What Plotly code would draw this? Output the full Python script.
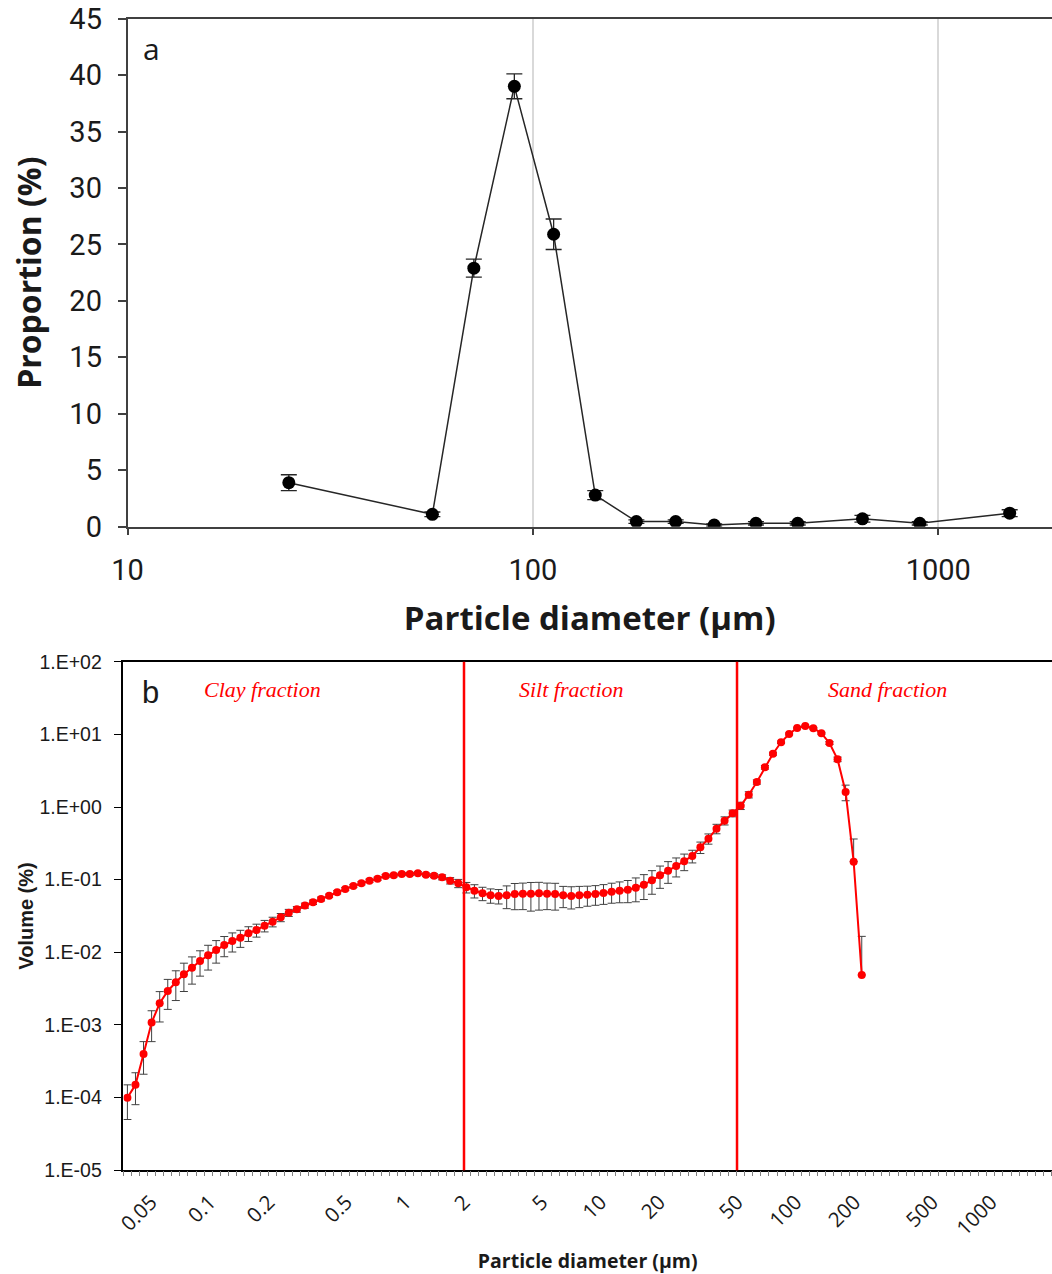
import numpy as np
import plotly.graph_objects as go

W, H = 1052, 1274

# ---------------- Panel a : sieve fractions ----------------
sieve_um = [25, 56.5, 71.5, 90, 112.5, 142.5, 180, 225, 280, 355, 450, 650, 900, 1500]
proportion = [3.9, 1.1, 22.9, 39.0, 25.9, 2.8, 0.45, 0.45, 0.15, 0.3, 0.3, 0.7, 0.3, 1.2]
proportion_sd = [0.7, 0.2, 0.8, 1.1, 1.35, 0.4, 0.15, 0.15, 0.1, 0.15, 0.15, 0.3, 0.15, 0.3]
a_xticks = [10, 100, 1000]
a_yticks = [0, 5, 10, 15, 20, 25, 30, 35, 40, 45]

# ---------------- Panel b : laser diffraction ----------------
diam_um = [
    0.0378, 0.04157, 0.04572, 0.05029, 0.05531, 0.06083, 0.0669, 0.07358, 0.08093, 0.08901,
    0.09788, 0.1076, 0.1184, 0.1302, 0.1432, 0.1575, 0.1732, 0.1905, 0.2095, 0.2305,
    0.2534, 0.2787, 0.3066, 0.3372, 0.3708, 0.4078, 0.4485, 0.4933, 0.5426, 0.5967,
    0.6563, 0.7218, 0.7938, 0.8731, 0.9603, 1.056, 1.161, 1.277, 1.405, 1.545,
    1.699, 1.869, 2.056, 2.261, 2.487, 2.735, 3.008, 3.308, 3.639, 4.002,
    4.401, 4.841, 5.324, 5.855, 6.44, 7.083, 7.79, 8.567, 9.422, 10.36,
    11.4, 12.53, 13.79, 15.16, 16.67, 18.34, 20.17, 22.18, 24.4, 26.83,
    29.51, 32.46, 35.7, 39.26, 43.18, 47.49, 52.23, 57.44, 63.17, 69.48,
    76.41, 84.04, 92.42, 101.6, 111.8, 122.9, 135.2, 148.7, 163.6, 179.9,
    197.8, 217.6,
]
volume = [
    1.0e-4, 1.5e-4, 4.0e-4, 1.08e-3, 1.99e-3, 2.94e-3, 3.87e-3, 4.99e-3, 6.15e-3, 7.6e-3,
    9.1e-3, 1.08e-2, 1.26e-2, 1.43e-2, 1.59e-2, 1.83e-2, 2.03e-2, 2.33e-2, 2.64e-2, 3.03e-2,
    3.51e-2, 3.91e-2, 4.40e-2, 4.89e-2, 5.43e-2, 6.02e-2, 6.71e-2, 7.45e-2, 8.19e-2, 8.92e-2,
    9.69e-2, 0.1032, 0.1124, 0.115, 0.1198, 0.1198, 0.1225, 0.1172, 0.1135, 0.1079,
    0.0969, 0.0892, 0.0786, 0.0706, 0.065, 0.061, 0.0597, 0.061, 0.0636, 0.0642,
    0.0642, 0.065, 0.0642, 0.0636, 0.061, 0.0597, 0.061, 0.0622, 0.0636, 0.0656,
    0.0684, 0.0706, 0.0728, 0.0776, 0.0853, 0.098, 0.115, 0.133, 0.154, 0.179,
    0.212, 0.279, 0.367, 0.503, 0.649, 0.82, 1.043, 1.478, 2.211, 3.524,
    5.42, 7.78, 10.12, 12.24, 13.04, 12.13, 10.35, 7.61, 4.54, 1.61,
    0.177, 0.00488,
]
volume_sd = [
    5e-5, 7e-5, 1.9e-4, 4.9e-4, 8.9e-4, 1.3e-3, 1.7e-3, 2.1e-3, 2.5e-3, 2.9e-3,
    3.4e-3, 3.7e-3, 3.9e-3, 4.2e-3, 4.2e-3, 4.2e-3, 4.1e-3, 4.2e-3, 4.0e-3, 3.9e-3,
    3.9e-3, 3.5e-3, 3.5e-3, 3.4e-3, 3.3e-3, 3.0e-3, 3.4e-3, 3.7e-3, 4.1e-3, 4.5e-3,
    4.8e-3, 5.2e-3, 5.6e-3, 5.8e-3, 6.0e-3, 6.0e-3, 6.1e-3, 5.9e-3, 6.8e-3, 8.6e-3,
    9.7e-3, 1.16e-2, 1.3e-2, 0.0146, 0.0136, 0.0136, 0.0134, 0.0211, 0.025, 0.0255,
    0.0273, 0.0269, 0.0255, 0.0255, 0.0198, 0.0202, 0.0198, 0.0191, 0.0192, 0.0199,
    0.021, 0.0225, 0.0246, 0.028, 0.032, 0.035, 0.039, 0.044, 0.045, 0.046,
    0.042, 0.05, 0.059, 0.075, 0.083, 0.087, 0.12, 0.145, 0.15, 0.2,
    0.25, 0.3, 0.3, 0.3, 0.3, 0.3, 0.3, 0.35, 0.33, 0.39,
    0.186, 0.0117,
]
b_xticks = [0.05, 0.1, 0.2, 0.5, 1, 2, 5, 10, 20, 50, 100, 200, 500, 1000]
b_xticktext = ["0.05", "0.1", "0.2", "0.5", "1", "2", "5", "10", "20", "50", "100", "200", "500", "1000"]
b_yticks = [1e-5, 1e-4, 1e-3, 1e-2, 1e-1, 1e0, 1e1, 1e2]
b_yticktext = ["1.E-05", "1.E-04", "1.E-03", "1.E-02", "1.E-01", "1.E+00", "1.E+01", "1.E+02"]
fraction_bounds = [2, 50]
fraction_names = ["Clay fraction", "Silt fraction", "Sand fraction"]


def px(x):
    return x / W


def py(y):
    return 1 - y / H


vol = np.array(volume)
sd = np.array(volume_sd)
# on a log axis the lower bar cannot go below zero: drop it (as in the original)
sd_minus = np.where(sd >= vol, 0.0, sd)

fig = go.Figure()

fig.add_trace(go.Scatter(
    x=sieve_um, y=proportion, mode="lines+markers",
    line=dict(color="#262626", width=1.5),
    marker=dict(color="black", size=13),
    error_y=dict(type="data", array=proportion_sd, color="#262626", thickness=1.3, width=8),
    xaxis="x", yaxis="y", showlegend=False,
))

fig.add_trace(go.Scatter(
    x=diam_um, y=volume, mode="lines+markers",
    line=dict(color="#ff0000", width=2),
    marker=dict(color="#ff0000", size=8),
    error_y=dict(type="data", array=volume_sd, arrayminus=sd_minus, symmetric=False,
                 color="#404040", thickness=1, width=4),
    xaxis="x2", yaxis="y2", showlegend=False,
))

# invisible carrier trace so that the category tick axis (one tick per size class) is drawn
fig.add_trace(go.Scatter(
    x=np.log10(diam_um), y=volume, mode="none", hoverinfo="skip",
    xaxis="x3", yaxis="y2", showlegend=False,
))

for b in fraction_bounds:
    fig.add_shape(type="line", xref="x2", yref="y2 domain", x0=b, x1=b, y0=0, y1=1,
                  line=dict(color="#ff0000", width=2.5))

a_font = dict(family="Roboto", size=29, color="#1a1a1a")
fig.update_layout(
    width=W, height=H, margin=dict(l=0, r=0, t=0, b=0),
    paper_bgcolor="white", plot_bgcolor="white",
    xaxis=dict(
        type="log", domain=[px(127.5), 1], anchor="y", range=[1, 3.2805],
        tickvals=a_xticks, ticktext=[str(v) for v in a_xticks],
        ticks="outside", ticklen=7, tickcolor="#404040", tickwidth=1.5,
        showline=True, linecolor="#404040", linewidth=1.5, mirror=True,
        showgrid=True, gridcolor="#d9d9d9", gridwidth=1.5, zeroline=False,
        tickfont=a_font, ticklabelstandoff=10, ticklabeloverflow="allow",
        title=dict(text="<b>Particle diameter (µm)</b>", standoff=21,
                   font=dict(family="Open Sans", size=33, color="#1a1a1a")),
        automargin=False,
    ),
    yaxis=dict(
        domain=[py(526.7), py(18.6)], anchor="x", range=[0, 45],
        tickvals=a_yticks, ticks="outside", ticklen=8, tickcolor="#404040", tickwidth=1.5,
        showline=True, linecolor="#404040", linewidth=1.5, mirror=False,
        showgrid=False, zeroline=False, tickfont=a_font, ticklabelstandoff=10,
        ticklabeloverflow="allow",
        title=dict(text="<b>Proportion (%)</b>", standoff=18,
                   font=dict(family="Open Sans", size=32, color="#1a1a1a")),
        automargin=False,
    ),
    xaxis2=dict(
        type="log", domain=[px(123.4), 1], anchor="y2", range=[-1.4430, 3.3118],
        tickvals=b_xticks, ticktext=b_xticktext, tickangle=-45,
        ticks="", showline=True, linecolor="black", linewidth=1.5, mirror=True,
        showgrid=False, zeroline=False,
        tickfont=dict(family="Open Sans", size=20.5, color="#1a1a1a"), ticklabelstandoff=10,
        ticklabeloverflow="allow",
        title=dict(text="<b>Particle diameter (µm)</b>", standoff=15,
                   font=dict(family="Open Sans", size=19.5, color="#1a1a1a")),
        automargin=False,
    ),
    xaxis3=dict(
        overlaying="x2", anchor="y2", side="bottom", range=[-1.4430, 3.3118],
        tick0=-1.44316, dtick=0.04132, ticks="outside", ticklen=5, tickcolor="#7f7f7f",
        tickwidth=1, showticklabels=False, showgrid=False, showline=False, zeroline=False,
        automargin=False,
    ),
    yaxis2=dict(
        type="log", domain=[py(1170.3), py(661.7)], anchor="x2", range=[-5, 2],
        tickvals=b_yticks, ticktext=b_yticktext,
        ticks="outside", ticklen=8, tickcolor="black", tickwidth=1.2,
        showline=True, linecolor="black", linewidth=1.5, mirror=False,
        showgrid=False, zeroline=False,
        tickfont=dict(family="Liberation Sans", size=19.5, color="#1a1a1a"),
        ticklabelstandoff=8, ticklabeloverflow="allow",
        title=dict(text="<b>Volume (%)</b>", standoff=0,
                   font=dict(family="Liberation Sans", size=20, color="#1a1a1a")),
        automargin=False,
    ),
)

fig.add_annotation(x=px(151), y=py(48), xref="paper", yref="paper", text="a", showarrow=False,
                   xanchor="center", yanchor="middle",
                   font=dict(family="Open Sans", size=30, color="#1a1a1a"))
fig.add_annotation(x=px(150), y=py(693), xref="paper", yref="paper", text="b", showarrow=False,
                   xanchor="center", yanchor="middle",
                   font=dict(family="Liberation Sans", size=31, color="#1a1a1a"))

label_x = [262, 571, 887]
for name, lx in zip(fraction_names, label_x):
    fig.add_annotation(x=px(lx), y=py(689), xref="paper", yref="paper", text=f"<i>{name}</i>",
                       showarrow=False, xanchor="center", yanchor="middle",
                       font=dict(family="Liberation Serif", size=22, color="#ff0000"))

fig.write_html("out.html")
